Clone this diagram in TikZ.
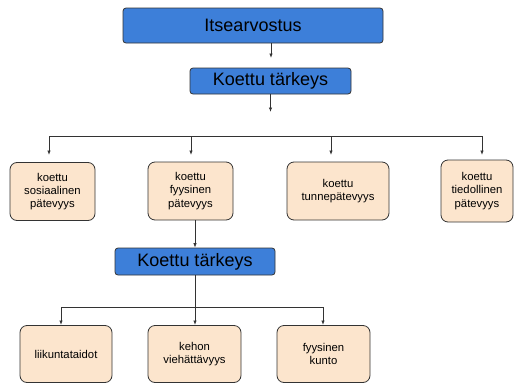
\documentclass[tikz,border=0pt]{standalone}
\usepackage{fontspec}
\setmainfont{Liberation Sans}
\usetikzlibrary{arrows.meta}
\definecolor{bluefill}{HTML}{3D7FD9}
\definecolor{beige}{HTML}{FCE5CD}
\definecolor{edge}{HTML}{333333}
\tikzset{
  x=1pt,y=-1pt,
  bluebox/.style={draw=edge, line width=0.8pt, fill=bluefill, rounded corners=3pt, inner sep=0pt, font=\fontsize{18}{20}\selectfont},
  tanbox/.style={draw=edge, line width=0.8pt, fill=beige, rounded corners=7pt, inner sep=0pt, align=center, minimum height=58, font=\fontsize{11.3}{13.3}\selectfont},
  conn/.style={draw=edge, line width=0.8pt},
  arr/.style={conn, -{Latex[length=4.5pt,width=3.5pt]}}
}
\begin{document}
\begin{tikzpicture}
\useasboundingbox (0,0) rectangle (517,386);
\node[bluebox, minimum width=260, minimum height=35] (top) at (253,25.5) {Itsearvostus};
\node[bluebox, minimum width=161, minimum height=26] (k1) at (270.5,81) {Koettu tärkeys};
\node[tanbox, minimum width=85] (sos) at (52.5,191.5) {koettu\\sosiaalinen\\pätevyys};
\node[tanbox, minimum width=85] (fyy) at (190.5,191) {koettu\\fyysinen\\pätevyys};
\node[tanbox, minimum width=102] (tun) at (338,191) {koettu\\tunnepätevyys};
\node[tanbox, minimum width=72, minimum height=62] (tie) at (477,191) {koettu\\tiedollinen\\pätevyys};
\node[bluebox, minimum width=160, minimum height=27] (k2) at (195,261.5) {Koettu tärkeys};
\node[tanbox, minimum width=92, minimum height=57] (lii) at (66,354) {liikuntataidot};
\node[tanbox, minimum width=93, minimum height=57] (keh) at (194.5,354) {kehon\\viehättävyys};
\node[tanbox, minimum width=93, minimum height=57] (kun) at (323.5,354) {fyysinen\\kunto};
% top arrows
\coordinate (a1) at (271,58);
\draw[arr] (top.south -| a1) -- (a1);
\coordinate (a2) at (270.5,112);
\draw[arr] (k1.south -| a2) -- (a2);
% first level
\coordinate (h1) at (49,136);
\coordinate (h4) at (482,136);
\coordinate (d1) at (49,155);
\coordinate (d2) at (191,155);
\coordinate (d3) at (331,155);
\coordinate (d4) at (482,155);
\draw[conn] (h1) -- (h4);
\draw[arr] (h1) -- (d1);
\draw[arr] (d2 |- h1) -- (d2);
\draw[arr] (d3 |- h1) -- (d3);
\draw[arr] (h4) -- (d4);
% second level
\coordinate (f) at (195,220);
\draw[arr] (f) -- (k2.north);
\coordinate (g1) at (61,307);
\coordinate (g3) at (323,307);
\coordinate (e1) at (61,325);
\coordinate (e2) at (195,325);
\coordinate (e3) at (323,325);
\draw[conn] (g1) -- (g3);
\draw[arr] (k2.south) -- (e2);
\draw[arr] (g1) -- (e1);
\draw[arr] (g3) -- (e3);
\end{tikzpicture}
\end{document}
